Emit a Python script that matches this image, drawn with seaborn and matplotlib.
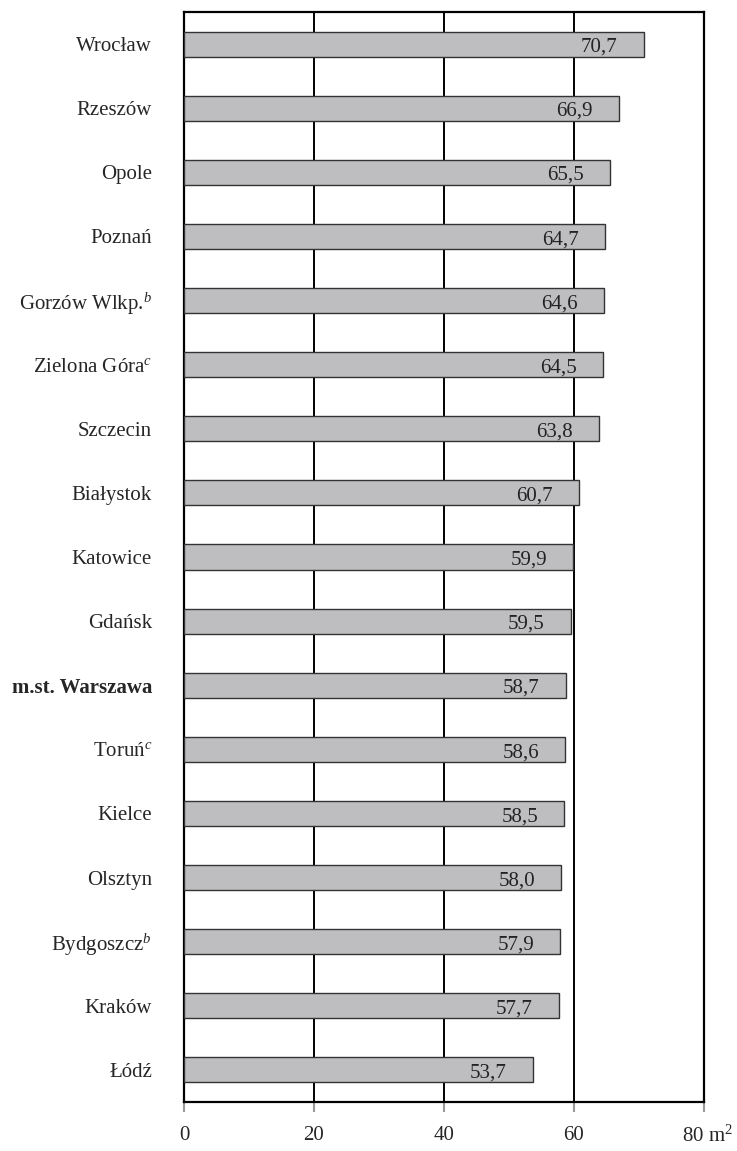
import matplotlib
matplotlib.use("Agg")
import matplotlib.pyplot as plt
import matplotlib.transforms as mtransforms
import seaborn as sns

###### Data

cities = ["Wrocław", "Rzeszów", "Opole", "Poznań", "Gorzów Wlkp.$^{\\mathit{b}}$",
          "Zielona Góra$^{\\mathit{c}}$", "Szczecin", "Białystok", "Katowice", "Gdańsk",
          "m.st. Warszawa", "Toruń$^{\\mathit{c}}$", "Kielce", "Olsztyn",
          "Bydgoszcz$^{\\mathit{b}}$", "Kraków", "Łódź"]
area = [70.7, 66.9, 65.5, 64.7, 64.6, 64.5, 63.8, 60.7, 59.9, 59.5,
        58.7, 58.6, 58.5, 58.0, 57.9, 57.7, 53.7]
xticks = [0, 20, 40, 60, 80]

###### Style

sns.set_style("white")
plt.rcParams["font.family"] = ["Liberation Serif", "DejaVu Serif"]
plt.rcParams["mathtext.fontset"] = "custom"
plt.rcParams["mathtext.rm"] = "Liberation Serif"
plt.rcParams["mathtext.it"] = "Liberation Serif:italic"

fig = plt.figure(figsize=(7.37, 11.51), dpi=100)
ax = fig.add_axes([184 / 737, 49 / 1151, 520 / 737, 1090 / 1151])

sns.barplot(x=area, y=cities, color="#bebec1", edgecolor="#333333",
            linewidth=1.0, width=0.39, saturation=1, ax=ax, zorder=3)

ax.set_xlim(0, 80)
ax.set_xticks(xticks)
ax.set_xticklabels(["0", "20", "40", "60", ""], fontsize=15)
for x in xticks[1:]:
    ax.axvline(x, color="black", lw=1.4, zorder=1)

for s in ax.spines.values():
    s.set_color("black")
    s.set_linewidth(1.6)
    s.set_visible(True)

ax.tick_params(axis="x", direction="out", length=7, width=1.5, color="#999999",
               pad=10, bottom=True)
ax.tick_params(axis="y", length=0, pad=23, labelsize=15)
ax.set_xlabel("")
ax.set_ylabel("")
for lbl in ax.get_yticklabels():
    if lbl.get_text().startswith("m.st."):
        lbl.set_fontweight("bold")

# last tick label with unit
trans = mtransforms.blended_transform_factory(ax.transData, ax.transAxes)
ax.annotate("80 m$^2$", xy=(80, 0), xycoords=trans, xytext=(-16, -17),
            textcoords="offset points", ha="left", va="top", fontsize=15)

# value labels inside the bars
for i, v in enumerate(area):
    ax.text(v - 4, i + 0.05, f"{v:.1f}".replace(".", ","), ha="right",
            va="center", fontsize=15, color="#222222", zorder=4)

fig.savefig("out.png", dpi=100)
